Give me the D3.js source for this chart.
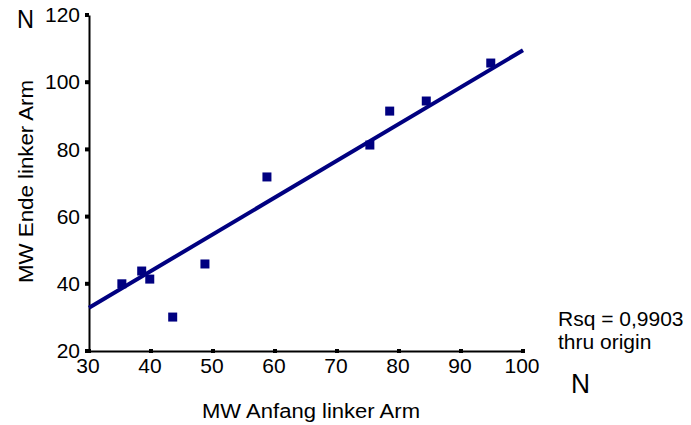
<!DOCTYPE html>
<html>
<head>
<meta charset="utf-8">
<script src="https://cdn.jsdelivr.net/npm/d3@7"></script>
<style>
  body { margin: 0; background: #fff; }
  text { font-family: "Liberation Sans", Arial, sans-serif; }
</style>
</head>
<body>
<div id="chart"></div>
<script>
// Data
const anfang = [35.3, 38.5, 39.8, 43.5, 48.7, 58.7, 75.3, 78.5, 84.4, 94.8];
const ende = [40.0, 43.8, 41.4, 30.1, 45.9, 71.8, 81.3, 91.4, 94.4, 105.7];
const slope = 1.095; // fit through origin
const x_ticks = [30, 40, 50, 60, 70, 80, 90, 100];
const y_ticks = [20, 40, 60, 80, 100, 120];

const width = 691;
const height = 425;
const navy = '#000080';

const x_scale = d3.scaleLinear().domain([30, 100]).range([89, 523]);
const y_scale = d3.scaleLinear().domain([20, 120]).range([351, 15]);

const svg = d3.select('#chart')
    .append('svg')
    .attr('width', width)
    .attr('height', height);

// Axes
const x_axis = d3.axisBottom(x_scale).tickValues(x_ticks).tickSize(0).tickPadding(7);
const y_axis = d3.axisLeft(y_scale).tickValues(y_ticks).tickSize(0).tickPadding(9);

const gx = svg.append('g')
    .attr('transform', `translate(0,${y_scale(20)})`)
    .call(x_axis);
const gy = svg.append('g')
    .attr('transform', `translate(${x_scale(30)},0)`)
    .call(y_axis);

[gx, gy].forEach(g => {
    g.select('.domain').attr('stroke', '#000').attr('stroke-width', 2);
    g.selectAll('text').attr('font-size', 21).attr('fill', '#000');
});
gx.selectAll('text').attr('x', -1.5);

// tick marks as little squares
svg.append('g').selectAll('rect')
    .data(x_ticks)
    .enter()
    .append('rect')
    .attr('x', d => x_scale(d) - 2)
    .attr('y', y_scale(20) - 2)
    .attr('width', 4)
    .attr('height', 4)
    .attr('fill', '#000');

svg.append('g').selectAll('rect')
    .data(y_ticks)
    .enter()
    .append('rect')
    .attr('x', x_scale(30) - 4)
    .attr('y', d => y_scale(d) - 2)
    .attr('width', 4)
    .attr('height', 4)
    .attr('fill', '#000');

// Fit line
svg.append('line')
    .attr('x1', x_scale(30))
    .attr('y1', y_scale(30 * slope))
    .attr('x2', x_scale(100))
    .attr('y2', y_scale(100 * slope))
    .attr('stroke', navy)
    .attr('stroke-width', 4);

// Points
svg.append('g').selectAll('rect')
    .data(anfang)
    .enter()
    .append('rect')
    .attr('x', (d, i) => x_scale(d) - 4.5)
    .attr('y', (d, i) => y_scale(ende[i]) - 4.5)
    .attr('width', 9)
    .attr('height', 9)
    .attr('fill', navy);

// Labels
svg.append('text')
    .attr('x', 202)
    .attr('y', 418)
    .attr('font-size', 20)
    .attr('textLength', 218)
    .attr('lengthAdjust', 'spacingAndGlyphs')
    .text('MW Anfang linker Arm');

svg.append('text')
    .attr('transform', 'translate(33,283) rotate(-90)')
    .attr('font-size', 20)
    .attr('textLength', 203)
    .attr('lengthAdjust', 'spacingAndGlyphs')
    .text('MW Ende linker Arm');

svg.append('text')
    .attr('x', 558).attr('y', 326)
    .attr('font-size', 21)
    .text('Rsq = 0,9903');
svg.append('text')
    .attr('x', 558).attr('y', 349)
    .attr('font-size', 21)
    .text('thru origin');

svg.append('text')
    .attr('x', 17).attr('y', 28)
    .attr('font-size', 25)
    .attr('textLength', 17)
    .attr('lengthAdjust', 'spacingAndGlyphs')
    .text('N');
svg.append('text')
    .attr('x', 571).attr('y', 393)
    .attr('font-size', 27)
    .attr('textLength', 19)
    .attr('lengthAdjust', 'spacingAndGlyphs')
    .text('N');
</script>
</body>
</html>
